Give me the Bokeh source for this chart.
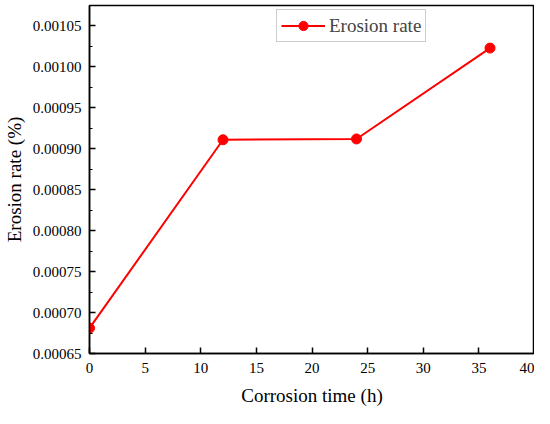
from bokeh.plotting import figure
from bokeh.models import FixedTicker, PrintfTickFormatter, Legend, LegendItem, Range1d
from bokeh.embed import file_html
from bokeh.resources import INLINE

time_h = [0, 12, 24, 36]
erosion_rate = [0.000681, 0.000911, 0.000912, 0.001023]
x_ticks = [0, 5, 10, 15, 20, 25, 30, 35, 40]
y_ticks = [0.00065, 0.00070, 0.00075, 0.00080, 0.00085, 0.00090, 0.00095, 0.00100, 0.00105]
y_minor = [0.000675, 0.000725, 0.000775, 0.000825, 0.000875, 0.000925, 0.000975, 0.001025, 0.001075]

FONT = "Liberation Serif"

p = figure(width=534, height=408, output_backend="svg", toolbar_location=None,
           x_range=Range1d(x_ticks[0], x_ticks[-1]), y_range=Range1d(y_ticks[0], 0.001075),
           min_border_left=0, min_border_right=0, min_border_top=5, min_border_bottom=0)
p.grid.visible = False
p.background_fill_color = "white"
p.border_fill_color = "white"
p.outline_line_color = "black"
p.outline_line_width = 1.5

line = p.line(time_h, erosion_rate, line_color="#ff0000", line_width=2)
pts = p.scatter(time_h, erosion_rate, size=10, fill_color="#ff0000", line_color="#ff0000")

xa = p.xaxis[0]
xa.ticker = FixedTicker(ticks=x_ticks)
xa.axis_label = "Corrosion time (h)"
ya = p.yaxis[0]
ya.ticker = FixedTicker(ticks=y_ticks, minor_ticks=y_minor)
ya.formatter = PrintfTickFormatter(format="%.5f")
ya.axis_label = "Erosion rate (%)"

for ax in (xa, ya):
    ax.axis_line_color = "black"
    ax.axis_line_width = 1.5
    ax.major_tick_in = 6
    ax.major_tick_out = 0
    ax.major_tick_line_width = 1.5
    ax.minor_tick_in = 3
    ax.minor_tick_out = 0
    ax.minor_tick_line_width = 1.2
    ax.major_label_text_font = FONT
    ax.major_label_text_font_size = "15px"
    ax.major_label_text_color = "black"
    ax.axis_label_text_font = FONT
    ax.axis_label_text_font_size = "19px"
    ax.axis_label_text_font_style = "normal"
    ax.axis_label_text_color = "black"
xa.minor_tick_in = 0
xa.major_label_standoff = 9
xa.axis_label_standoff = 9
ya.major_label_standoff = 8
ya.axis_label_standoff = 5

legend = Legend(items=[LegendItem(label="Erosion rate", renderers=[line, pts])],
                location=(187, 311), label_text_font=FONT, label_text_font_size="19px",
                glyph_width=44, glyph_height=23, padding=4, margin=0,
                label_standoff=4, border_line_color="#999999", border_line_width=1,
                background_fill_alpha=1.0, spacing=0)
p.add_layout(legend, "center")

open("out.html", "w").write(file_html(p, INLINE))
